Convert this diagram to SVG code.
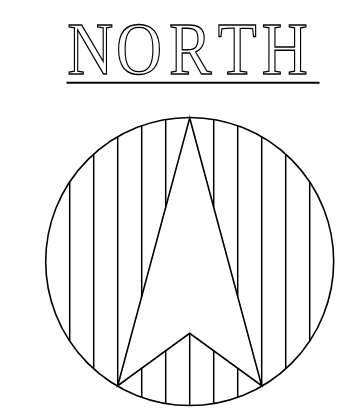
<svg xmlns="http://www.w3.org/2000/svg" width="348" height="412" viewBox="0 0 348 412">
<style>
.l{fill:none;stroke:#000;stroke-width:1.5}
.o{fill:none;stroke:#000;stroke-width:1.6;stroke-linejoin:miter}
.t{font-family:"Liberation Serif","Times New Roman",serif;font-size:75px;fill:#fff;stroke:#000;stroke-width:1.35}
</style>
<rect width="348" height="412" fill="#fff"/>
<g id="title">
<text class="t" transform="translate(0 74) scale(.85 1)" x="79 136.5 198.7 256.3 308" y="0">NORTH</text>
<line x1="66.5" y1="82.7" x2="319.5" y2="82.7" stroke="#000" stroke-width="2"/>
</g>
<g id="hatching">
<path class="l" d="M69.7 181.9V341.1M93.7 154.2V368.8M117.7 136.8V385.7M141.7 125.7V296.5M141.7 368.2V397.3M165.7 119.5V207.2M165.7 350.8V403.5M189.7 333.3V405.5M213.7 119.5V207.2M213.7 350.8V403.5M237.7 125.7V296.5M237.7 368.2V397.3M261.7 136.8V385.7M285.7 154.2V368.8M309.7 181.9V341.1"/>
</g>
<g id="compass">
<circle class="o" cx="189.7" cy="261.5" r="144"/>
<path class="o" d="M189.7 118L261.7 385.7L189.7 333.3L117.7 385.7Z"/>
</g>
</svg>
